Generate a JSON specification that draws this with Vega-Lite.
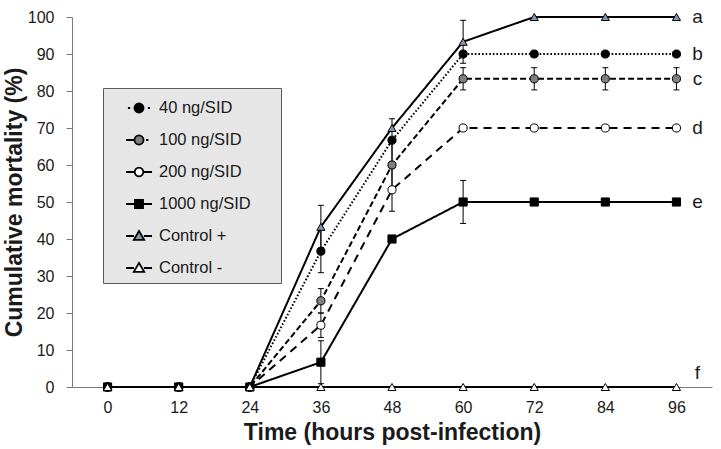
{
  "$schema": "https://vega.github.io/schema/vega-lite/v6.json",
  "width": 640,
  "height": 370,
  "autosize": "none",
  "padding": {"left": 72, "top": 17, "right": 9, "bottom": 62},
  "background": "white",
  "config": {
    "view": {"stroke": null},
    "font": "Liberation Sans",
    "axis": {
      "labelFont": "Liberation Sans",
      "labelFontSize": 16,
      "labelColor": "#1a1a1a",
      "labelOverlap": false,
      "titleFont": "Liberation Sans",
      "titleFontSize": 23,
      "titleFontWeight": "bold",
      "titleColor": "#1a1a1a",
      "domainColor": "#7a7a7a",
      "tickColor": "#7a7a7a",
      "grid": false
    },
    "axisY": {"tickCount": 11, "tickSize": 6, "labelPadding": 12, "titlePadding": 1},
    "axisX": {"ticks": false, "labelPadding": 12, "titlePadding": 6}
  },
  "datasets": {
    "series": [
      {"series": "40 ng/SID", "t": 0, "y": 0}, {"series": "40 ng/SID", "t": 12, "y": 0}, {"series": "40 ng/SID", "t": 24, "y": 0},
      {"series": "40 ng/SID", "t": 36, "y": 36.7}, {"series": "40 ng/SID", "t": 48, "y": 66.7}, {"series": "40 ng/SID", "t": 60, "y": 90},
      {"series": "40 ng/SID", "t": 72, "y": 90}, {"series": "40 ng/SID", "t": 84, "y": 90}, {"series": "40 ng/SID", "t": 96, "y": 90},
      {"series": "100 ng/SID", "t": 0, "y": 0}, {"series": "100 ng/SID", "t": 12, "y": 0}, {"series": "100 ng/SID", "t": 24, "y": 0},
      {"series": "100 ng/SID", "t": 36, "y": 23.3}, {"series": "100 ng/SID", "t": 48, "y": 60}, {"series": "100 ng/SID", "t": 60, "y": 83.3},
      {"series": "100 ng/SID", "t": 72, "y": 83.3}, {"series": "100 ng/SID", "t": 84, "y": 83.3}, {"series": "100 ng/SID", "t": 96, "y": 83.3},
      {"series": "200 ng/SID", "t": 0, "y": 0}, {"series": "200 ng/SID", "t": 12, "y": 0}, {"series": "200 ng/SID", "t": 24, "y": 0},
      {"series": "200 ng/SID", "t": 36, "y": 16.7}, {"series": "200 ng/SID", "t": 48, "y": 53.3}, {"series": "200 ng/SID", "t": 60, "y": 70},
      {"series": "200 ng/SID", "t": 72, "y": 70}, {"series": "200 ng/SID", "t": 84, "y": 70}, {"series": "200 ng/SID", "t": 96, "y": 70},
      {"series": "1000 ng/SID", "t": 0, "y": 0}, {"series": "1000 ng/SID", "t": 12, "y": 0}, {"series": "1000 ng/SID", "t": 24, "y": 0},
      {"series": "1000 ng/SID", "t": 36, "y": 6.7}, {"series": "1000 ng/SID", "t": 48, "y": 40}, {"series": "1000 ng/SID", "t": 60, "y": 50},
      {"series": "1000 ng/SID", "t": 72, "y": 50}, {"series": "1000 ng/SID", "t": 84, "y": 50}, {"series": "1000 ng/SID", "t": 96, "y": 50},
      {"series": "Control +", "t": 0, "y": 0}, {"series": "Control +", "t": 12, "y": 0}, {"series": "Control +", "t": 24, "y": 0},
      {"series": "Control +", "t": 36, "y": 43.3}, {"series": "Control +", "t": 48, "y": 70}, {"series": "Control +", "t": 60, "y": 93.3},
      {"series": "Control +", "t": 72, "y": 100}, {"series": "Control +", "t": 84, "y": 100}, {"series": "Control +", "t": 96, "y": 100},
      {"series": "Control -", "t": 0, "y": 0}, {"series": "Control -", "t": 12, "y": 0}, {"series": "Control -", "t": 24, "y": 0},
      {"series": "Control -", "t": 36, "y": 0}, {"series": "Control -", "t": 48, "y": 0}, {"series": "Control -", "t": 60, "y": 0},
      {"series": "Control -", "t": 72, "y": 0}, {"series": "Control -", "t": 84, "y": 0}, {"series": "Control -", "t": 96, "y": 0}
    ],
    "errs": [
      {"series": "40 ng/SID", "t": 36, "lo": 30.9, "hi": 42.5},
      {"series": "40 ng/SID", "t": 48, "lo": 60.9, "hi": 72.5},
      {"series": "100 ng/SID", "t": 36, "lo": 20, "hi": 26.6},
      {"series": "100 ng/SID", "t": 48, "lo": 54.2, "hi": 65.8},
      {"series": "100 ng/SID", "t": 60, "lo": 80.3, "hi": 86.3},
      {"series": "100 ng/SID", "t": 72, "lo": 80.3, "hi": 86.3},
      {"series": "100 ng/SID", "t": 84, "lo": 80.3, "hi": 86.3},
      {"series": "100 ng/SID", "t": 96, "lo": 80.3, "hi": 86.3},
      {"series": "200 ng/SID", "t": 36, "lo": 13.4, "hi": 20},
      {"series": "200 ng/SID", "t": 48, "lo": 47.5, "hi": 59.1},
      {"series": "1000 ng/SID", "t": 36, "lo": 0.9, "hi": 12.5},
      {"series": "1000 ng/SID", "t": 60, "lo": 44.2, "hi": 55.8},
      {"series": "Control +", "t": 36, "lo": 37.5, "hi": 49.1},
      {"series": "Control +", "t": 60, "lo": 87.5, "hi": 99.1}
    ],
    "letters": [
      {"t": 96, "y": 100, "letter": "a"},
      {"t": 96, "y": 90, "letter": "b"},
      {"t": 96, "y": 83.3, "letter": "c"},
      {"t": 96, "y": 70, "letter": "d"},
      {"t": 96, "y": 50, "letter": "e"},
      {"t": 96, "y": 3.8, "letter": "f"}
    ]
  },
  "layer": [
    {
      "data": {"name": "series"},
      "mark": {"type": "line", "color": "black", "strokeWidth": 2},
      "encoding": {
        "x": {"field": "t", "type": "quantitative", "scale": {"domain": [-6, 102], "nice": false, "zero": false},
              "axis": {"values": [0, 12, 24, 36, 48, 60, 72, 84, 96], "title": "Time (hours post-infection)"}},
        "y": {"field": "y", "type": "quantitative", "scale": {"domain": [0, 100], "nice": false},
              "axis": {"title": "Cumulative mortality (%)"}},
        "detail": {"field": "series", "type": "nominal"},
        "strokeDash": {"field": "series", "type": "nominal",
          "scale": {"domain": ["40 ng/SID", "100 ng/SID", "200 ng/SID", "1000 ng/SID", "Control +", "Control -"],
                    "range": [[1.6, 2], [6, 3], [8, 6], [1, 0], [1, 0], [1, 0]]},
          "legend": null}
      }
    },
    {
      "data": {"name": "errs"},
      "mark": {"type": "rule", "color": "black", "strokeWidth": 1},
      "encoding": {
        "x": {"field": "t", "type": "quantitative"},
        "y": {"field": "lo", "type": "quantitative"},
        "y2": {"field": "hi"}
      }
    },
    {
      "data": {"name": "errs"},
      "mark": {"type": "tick", "orient": "horizontal", "size": 6, "thickness": 1, "color": "black", "opacity": 1},
      "encoding": {
        "x": {"field": "t", "type": "quantitative"},
        "y": {"field": "lo", "type": "quantitative"}
      }
    },
    {
      "data": {"name": "errs"},
      "mark": {"type": "tick", "orient": "horizontal", "size": 6, "thickness": 1, "color": "black", "opacity": 1},
      "encoding": {
        "x": {"field": "t", "type": "quantitative"},
        "y": {"field": "hi", "type": "quantitative"}
      }
    },
    {
      "data": {"name": "series"},
      "mark": {"type": "point", "filled": true, "stroke": "black", "strokeWidth": 1, "opacity": 1},
      "encoding": {
        "x": {"field": "t", "type": "quantitative"},
        "y": {"field": "y", "type": "quantitative"},
        "shape": {"field": "series", "type": "nominal",
          "scale": {"domain": ["40 ng/SID", "100 ng/SID", "200 ng/SID", "1000 ng/SID", "Control +", "Control -"],
                    "range": ["circle", "circle", "circle", "square", "triangle-up", "triangle-up"]},
          "legend": null},
        "fill": {"field": "series", "type": "nominal",
          "scale": {"domain": ["40 ng/SID", "100 ng/SID", "200 ng/SID", "1000 ng/SID", "Control +", "Control -"],
                    "range": ["#000000", "#7f7f7f", "#ffffff", "#000000", "#8497b0", "#ffffff"]},
          "legend": null},
        "size": {"field": "series", "type": "nominal",
          "scale": {"domain": ["40 ng/SID", "100 ng/SID", "200 ng/SID", "1000 ng/SID", "Control +", "Control -"],
                    "range": [66, 66, 62, 68, 112, 112]},
          "legend": null}
      }
    },
    {
      "data": {"name": "series"},
      "transform": [{"filter": "false"}],
      "mark": {"type": "point", "filled": true, "strokeWidth": 1.5, "opacity": 1},
      "encoding": {
        "x": {"field": "t", "type": "quantitative"},
        "y": {"field": "y", "type": "quantitative"},
        "shape": {"field": "series", "type": "nominal",
          "scale": {"domain": ["40 ng/SID", "100 ng/SID", "200 ng/SID", "1000 ng/SID", "Control +", "Control -"],
                    "range": [
                      "M-0.85,0L-0.68,0M0.68,0L0.85,0M-0.35,0A0.35,0.35 0 1,0 0.35,0A0.35,0.35 0 1,0 -0.35,0Z",
                      "M-1,0L-0.35,0M0.55,0L0.72,0M-0.35,0A0.35,0.35 0 1,0 0.35,0A0.35,0.35 0 1,0 -0.35,0Z",
                      "M-1,0L-0.35,0M0.35,0L1,0M-0.33,0A0.33,0.33 0 1,0 0.33,0A0.33,0.33 0 1,0 -0.33,0Z",
                      "M-1,0L-0.31,0M0.31,0L1,0M-0.31,-0.31L0.31,-0.31L0.31,0.31L-0.31,0.31Z",
                      "M-1,0L-0.38,0M0.38,0L1,0M0,-0.38L0.4,0.3L-0.4,0.3Z",
                      "M-1,0L-0.38,0M0.38,0L1,0M0,-0.38L0.4,0.3L-0.4,0.3Z"
                    ]},
          "legend": {"title": null, "orient": "none", "legendX": 31, "legendY": 71, "fillColor": "#e6e6e6", "strokeColor": "#5a5a5a",
                     "padding": 6, "symbolSize": 676, "symbolStrokeWidth": 1.8, "symbolOffset": 16,
                     "labelOffset": 6, "labelFontSize": 16.5, "labelFont": "Liberation Sans", "labelColor": "#1a1a1a", "rowPadding": 9,
                     "labelLimit": 400, "labelExpr": "datum.label + '\u2800\u2800'"}},
        "fill": {"field": "series", "type": "nominal",
          "scale": {"domain": ["40 ng/SID", "100 ng/SID", "200 ng/SID", "1000 ng/SID", "Control +", "Control -"],
                    "range": ["#000000", "#7f7f7f", "#ffffff", "#000000", "#8497b0", "#ffffff"]},
          "legend": {"title": null, "orient": "none", "legendX": 31, "legendY": 71, "fillColor": "#e6e6e6", "strokeColor": "#5a5a5a",
                     "padding": 6, "symbolSize": 676, "symbolStrokeWidth": 1.8, "symbolOffset": 16,
                     "labelOffset": 6, "labelFontSize": 16.5, "labelFont": "Liberation Sans", "labelColor": "#1a1a1a", "rowPadding": 9,
                     "labelLimit": 400, "labelExpr": "datum.label + '\u2800\u2800'"}},
        "stroke": {"field": "series", "type": "nominal",
          "scale": {"domain": ["40 ng/SID", "100 ng/SID", "200 ng/SID", "1000 ng/SID", "Control +", "Control -"],
                    "range": ["#000000", "#000000", "#000000", "#000000", "#000000", "#000000"]},
          "legend": {"title": null, "orient": "none", "legendX": 31, "legendY": 71, "fillColor": "#e6e6e6", "strokeColor": "#5a5a5a",
                     "padding": 6, "symbolSize": 676, "symbolStrokeWidth": 1.8, "symbolOffset": 16,
                     "labelOffset": 6, "labelFontSize": 16.5, "labelFont": "Liberation Sans", "labelColor": "#1a1a1a", "rowPadding": 9,
                     "labelLimit": 400, "labelExpr": "datum.label + '\u2800\u2800'"}}
      }
    },
    {
      "data": {"name": "letters"},
      "mark": {"type": "text", "font": "Liberation Sans", "fontSize": 19, "color": "#1a1a1a", "align": "center", "baseline": "middle", "dx": 21},
      "encoding": {
        "x": {"field": "t", "type": "quantitative"},
        "y": {"field": "y", "type": "quantitative"},
        "text": {"field": "letter", "type": "nominal"}
      }
    }
  ],
  "resolve": {"scale": {"shape": "independent", "fill": "independent", "size": "independent", "stroke": "independent", "strokeDash": "independent"}}
}
